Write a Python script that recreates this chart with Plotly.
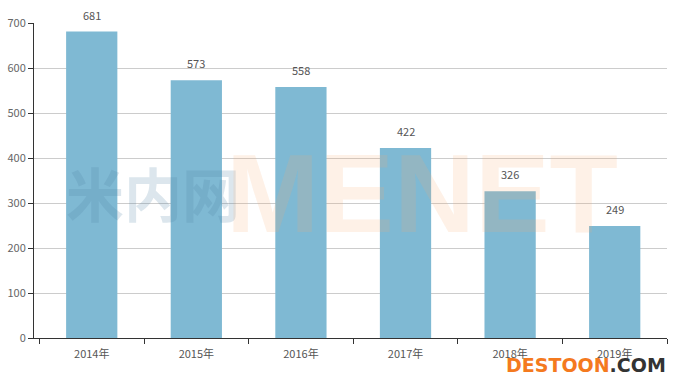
import plotly.graph_objects as go

categories = ["2014年", "2015年", "2016年", "2017年", "2018年", "2019年"]
values = [681, 573, 558, 422, 326, 249]
y_ticks = [0, 100, 200, 300, 400, 500, 600, 700]

font_family = "Noto Sans CJK SC, Noto Sans, sans-serif"

fig = go.Figure()
fig.add_trace(go.Bar(
    x=categories, y=values,
    marker=dict(color="#7fb9d3", line=dict(width=0)),
    width=0.49, hoverinfo="x+y",
))

# value labels above bars
for c, v in zip(categories, values):
    fig.add_annotation(x=c, y=v, text=str(v), showarrow=False,
                       yanchor="bottom", yshift=7,
                       font=dict(size=11, color="#555555", family=font_family))

fig.update_layout(
    width=681, height=387,
    margin=dict(l=34, r=14, t=23, b=49),
    paper_bgcolor="white", plot_bgcolor="white",
    showlegend=False,
    font=dict(family=font_family, size=11, color="#555555"),
    xaxis=dict(
        range=[-0.552, 5.5],
        showline=True, linecolor="#333333", linewidth=1,
        ticks="outside", ticklen=5, tickcolor="#333333",
        tickson="boundaries", showgrid=False,
        ticklabelstandoff=6,
        tickfont=dict(size=11, color="#555555"),
        automargin=False,
    ),
    yaxis=dict(
        range=[0, 700], tickvals=y_ticks,
        showline=True, linecolor="#333333", linewidth=1,
        ticks="outside", ticklen=5, tickcolor="#333333",
        showgrid=True, gridcolor="#cccccc", gridwidth=1,
        zeroline=False, automargin=False,
        tickfont=dict(size=11, color="#666666"),
    ),
)

# watermark
fig.add_annotation(text="<b>米内网</b>", xref="paper", yref="paper", x=0.047, y=0.465,
                   xanchor="left", yanchor="middle", showarrow=False,
                   font=dict(size=58, color="rgba(80,130,165,0.2)", family=font_family))
fig.add_annotation(text="<b>MENET</b>", xref="paper", yref="paper", x=0.3, y=0.46,
                   xanchor="left", yanchor="middle", showarrow=False,
                   font=dict(size=112, color="rgba(250,170,110,0.17)", family="Liberation Sans"))
# site logo
fig.add_annotation(text="<b><span style='color:#f47a1f'>DESTOON</span><span style='color:#333333'>.COM</span></b>",
                   xref="paper", yref="paper", x=1.002, y=-0.086,
                   xanchor="right", yanchor="middle", showarrow=False,
                   font=dict(size=19, family="DejaVu Sans"))

fig.write_html("out.html", config={"displayModeBar": False},
               post_script="document.body.style.margin='0';document.body.style.overflow='hidden';")
